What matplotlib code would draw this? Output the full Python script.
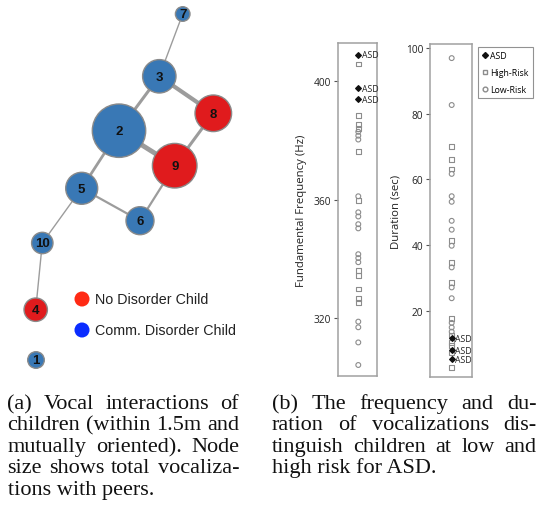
import numpy as np
import matplotlib.pyplot as plt
from matplotlib.patches import Circle
from matplotlib.lines import Line2D

# ---- network (panel a) ----
node_ids = [1, 2, 3, 4, 5, 6, 7, 8, 9, 10]
node_x = [36.0, 119.0, 159.3, 35.7, 81.7, 140.0, 182.7, 213.3, 174.7, 42.3]
node_y = [361.0, 131.7, 77.3, 310.7, 189.3, 221.7, 15.0, 114.3, 166.7, 244.0]
node_r = [8.3, 26.7, 16.7, 11.7, 16.0, 14.0, 7.3, 18.3, 22.3, 10.7]
node_disorder = [True, True, True, False, True, True, True, False, False, True]
edges = [(7, 3, 1.0), (3, 8, 3.0), (3, 2, 2.2), (2, 9, 3.5), (8, 9, 2.2),
         (2, 5, 2.0), (5, 6, 1.6), (6, 9, 1.6), (5, 10, 1.0), (10, 4, 1.0)]

# ---- strip plots (panel b) ----
freq_asd = [408.7, 397.5, 393.8]
freq_high = [405.6, 388.4, 385.2, 384.0, 376.1, 359.6, 336.0, 334.5, 329.9, 326.7, 325.4]
freq_low = [382.8, 381.5, 380.2, 361.1, 355.7, 354.3, 351.7, 350.3, 341.6, 340.3,
            338.9, 318.9, 317.0, 311.9, 304.3]
dur_asd = [11.6, 8.0, 5.2]
dur_high = [70.1, 66.0, 63.2, 41.5, 34.8, 28.7, 17.7, 12.6, 10.4, 9.3, 7.1, 2.8]
dur_low = [97.0, 82.7, 61.7, 54.9, 53.2, 47.4, 44.7, 39.8, 33.2, 27.1, 23.8, 16.3, 14.9, 13.6]

cap_a = ["(a) Vocal interactions of", "children (within 1.5m and",
         "mutually oriented). Node", "size shows total vocaliza-", "tions with peers."]
cap_b = ["(b) The frequency and du-", "ration of vocalizations dis-",
         "tinguish children at low and", "high risk for ASD."]

W, H = 541, 510
fig = plt.figure(figsize=(W / 100, H / 100), dpi=100)

# pixel-space overlay for the network and captions
ov = fig.add_axes([0, 0, 1, 1])
ov.set_xlim(0, W)
ov.set_ylim(H, 0)
ov.axis('off')

pos = {n: (x, y) for n, x, y in zip(node_ids, node_x, node_y)}
for a, b, w in edges:
    ov.plot([pos[a][0], pos[b][0]], [pos[a][1], pos[b][1]], color='#9c9c9c',
            lw=w, solid_capstyle='round', zorder=1)
for n, x, y, r, dis in zip(node_ids, node_x, node_y, node_r, node_disorder):
    c = '#3978b5' if dis else '#e01b1d'
    ov.add_patch(Circle((x, y), r, facecolor=c, edgecolor='#8a8a8a', lw=1, zorder=2))
    ov.text(x, y + 0.5, str(n), ha='center', va='center', fontsize=9.5,
            fontweight='bold', family='Liberation Sans', color='#111', zorder=3)

# network legend
ov.add_patch(Circle((82, 300), 7.5, facecolor='#ff2a14', edgecolor='none'))
ov.add_patch(Circle((82, 331), 7.5, facecolor='#0a2cff', edgecolor='none'))
ov.text(95, 300, 'No Disorder Child', va='center', fontsize=10.3,
        family='Liberation Sans', color='#222')
ov.text(95, 331, 'Comm. Disorder Child', va='center', fontsize=10.3,
        family='Liberation Sans', color='#222')


def strip(rect, low, high, asd, ylim, ticks, ylabel, label_x):
    ax = fig.add_axes(rect)
    ax.scatter(np.zeros(len(low)) + 0.04, low, s=12, marker='o', facecolors='none',
               edgecolors='#8c8c8c', linewidths=0.8, zorder=2)
    ax.scatter(np.zeros(len(high)) + 0.04, high, s=12, marker='s', facecolors='none',
               edgecolors='#8c8c8c', linewidths=0.8, zorder=2)
    ax.scatter(np.zeros(len(asd)) + 0.04, asd, s=8, marker='D', color='#111', zorder=3)
    for v in asd:
        ax.annotate('ASD', (0.04, v), xytext=(2.5, 0), textcoords='offset points',
                    va='center', fontsize=6.3, family='Open Sans', color='#222')
    ax.set_xlim(-1, 1)
    ax.set_ylim(*ylim)
    ax.set_xticks([])
    ax.set_yticks(ticks)
    ax.tick_params(axis='y', labelsize=7.3, colors='#555', length=3, width=0.8, pad=2,
                   labelcolor='#222')
    for lab in ax.get_yticklabels():
        lab.set_family('Open Sans')
    for s in ax.spines.values():
        s.set_color('#a0a0a0')
        s.set_linewidth(1.1)
    ax.set_ylabel(ylabel, fontsize=8.2, family='Open Sans', color='#222')
    ax.yaxis.set_label_coords(label_x, 0.5)
    return ax


ax1 = strip([337.7 / W, 1 - 376.7 / H, 39.6 / W, 332.7 / H], freq_low, freq_high, freq_asd,
            (300.7, 412.7), [320, 360, 400], 'Fundamental Frequency (Hz)', -0.78)
ax2 = strip([430 / W, 1 - 378.3 / H, 41.7 / W, 333.3 / H], dur_low, dur_high, dur_asd,
            (-0.3, 101.3), [20, 40, 60, 80, 100], 'Duration (sec)', -0.68)

handles = [Line2D([], [], marker='D', ls='none', color='#111', markersize=3.0),
           Line2D([], [], marker='s', ls='none', mfc='none', mec='#8c8c8c', markersize=3.4),
           Line2D([], [], marker='o', ls='none', mfc='none', mec='#8c8c8c', markersize=3.4)]
leg = ax2.legend(handles, ['ASD', 'High-Risk', 'Low-Risk'], loc='upper left',
                 bbox_to_anchor=(478 / W, 1 - 48 / H), bbox_transform=fig.transFigure,
                 borderaxespad=0, fancybox=False, edgecolor='#777',
                 handlelength=0.6, handletextpad=0.35, labelspacing=0.9, borderpad=0.45,
                 prop={'family': 'Open Sans', 'size': 6.3})
leg.get_frame().set_linewidth(0.8)

# justified captions
renderer = fig.canvas.get_renderer()
cap_font = dict(fontsize=16, family='Liberation Serif', color='#111', va='baseline')


def caption(lines, x0, x1, y0, dy):
    for i, line in enumerate(lines):
        y = y0 + i * dy
        if i == len(lines) - 1:
            ov.text(x0, y, line, **cap_font)
            continue
        words = line.split()
        ts = [ov.text(0, y, w, **cap_font) for w in words]
        widths = [t.get_window_extent(renderer).width for t in ts]
        gap = (x1 - x0 - sum(widths)) / (len(words) - 1)
        x = x0
        for t, w in zip(ts, widths):
            t.set_x(x)
            x += w + gap


caption(cap_a, 7.5, 239, 409, 21.5)
caption(cap_b, 272, 536.5, 409, 21.5)

fig.savefig('out.png', dpi=100)
